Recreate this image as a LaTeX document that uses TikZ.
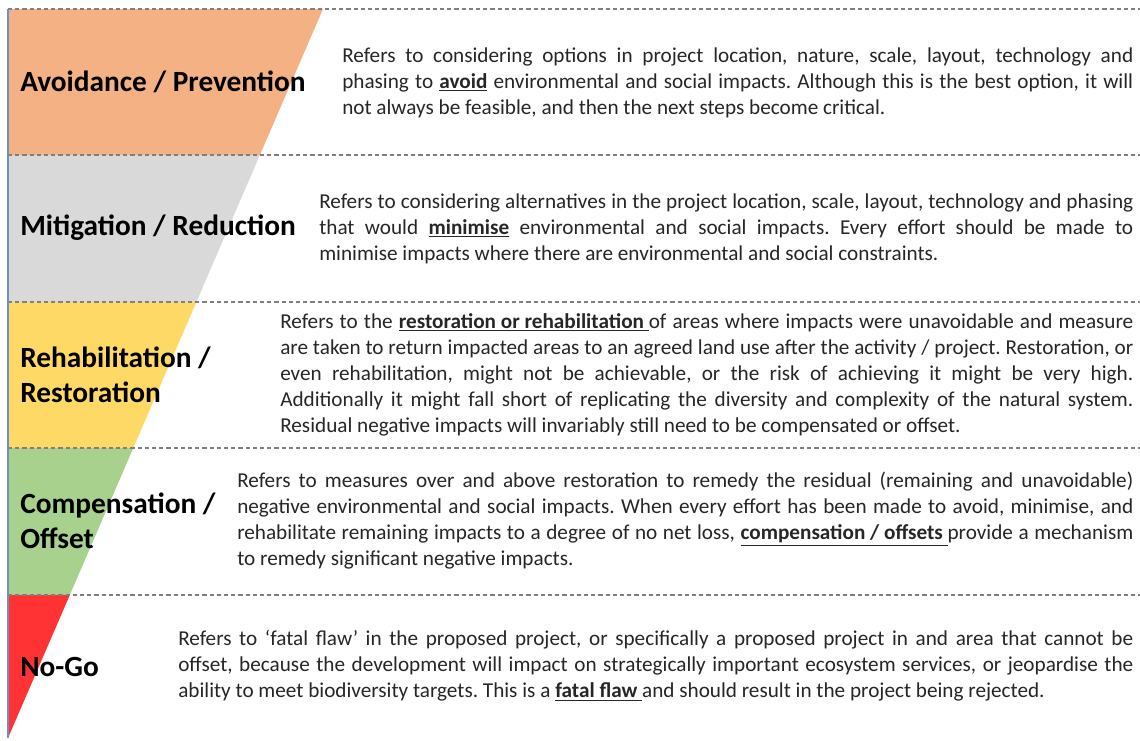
\documentclass[tikz,border=0pt]{standalone}
\usepackage{fontspec}
\setmainfont{Carlito}
\definecolor{orangeF}{HTML}{F4B183}
\definecolor{greyF}{HTML}{D9D9D9}
\definecolor{yellowF}{HTML}{FFD966}
\definecolor{greenF}{HTML}{A9D18E}
\definecolor{redF}{HTML}{FF3333}
\definecolor{txtC}{HTML}{262626}
\definecolor{sideC}{HTML}{6F8FC0}
\definecolor{dashC}{HTML}{7F7F7F}
\tikzset{
  sep/.style={draw=dashC, line width=0.8pt, dash pattern=on 3.2pt off 2.2pt},
  lbl/.style={anchor=west, inner sep=0pt, align=left, text=black,
    font=\fontsize{22}{26.5}\selectfont\bfseries},
  body/.style={anchor=west, inner sep=0pt, text=txtC, align=justify,
    font=\fontsize{15.9}{19.5}\selectfont\frenchspacing},
}
\newcommand{\ul}[1]{\underline{\textbf{#1}}}
\begin{document}
\begin{tikzpicture}[x=0.75pt,y=-0.75pt]
\useasboundingbox (0,0) rectangle (1140,740);
% bands
\fill[orangeF] (8,9) -- (323,9) -- (259.9,155) -- (8,155) -- cycle;
\fill[greyF] (8,155) -- (259.9,155) -- (196.4,302) -- (8,302) -- cycle;
\fill[yellowF] (8,302) -- (196.4,302) -- (133.3,448) -- (8,448) -- cycle;
\fill[greenF] (8,448) -- (133.3,448) -- (69.8,595) -- (8,595) -- cycle;
\fill[redF] (8,595) -- (69.8,595) -- (8,738) -- cycle;
% separators
\coordinate (s0l) at (8,9);   \coordinate (s0r) at (1140,9);
\coordinate (s1l) at (8,155); \coordinate (s1r) at (1140,155);
\coordinate (s2l) at (8,302); \coordinate (s2r) at (1140,302);
\coordinate (s3l) at (8,448); \coordinate (s3r) at (1140,448);
\coordinate (s4l) at (8,595); \coordinate (s4r) at (1140,595);
\coordinate (bot) at (8,738);
\foreach \i in {0,...,4} { \draw[sep] (s\i l) -- (s\i r); }
\draw[sideC, line width=0.8pt] (s0l) -- (bot);
% labels
\node[lbl] (l1) at (20,82) {Avoidance / Prevention};
\node[lbl] (l2) at (20,228) {Mitigation / Reduction};
\node[lbl] (l3) at (20,375) {Rehabilitation /\\Restoration};
\node[lbl] (l4) at (20,521) {Compensation /\\Offset};
\node[lbl] (l5) at (20,667) {No-Go};
% descriptions
\node[body, text width=593.25pt] (t1) at (342,83) {Refers to considering options in project location, nature, scale, layout, technology and\linebreak
phasing to \ul{avoid} environmental and social impacts. Although this is the best option, it will\linebreak
not always be feasible, and then the next steps become critical.};
\node[body, text width=610.5pt] (t2) at (319,229) {Refers to considering alternatives in the project location, scale, layout, technology and phasing\linebreak
that would \ul{minimise} environmental and social impacts. Every effort should be made to\linebreak
minimise impacts where there are environmental and social constraints.};
\node[body, text width=639.75pt] (t3) at (280,375) {Refers to the \ul{restoration or rehabilitation\ }of areas where impacts were unavoidable and measure\linebreak
are taken to return impacted areas to an agreed land use after the activity / project. Restoration, or\linebreak
even rehabilitation, might not be achievable, or the risk of achieving it might be very high.\linebreak
Additionally it might fall short of replicating the diversity and complexity of the natural system.\linebreak
Residual negative impacts will invariably still need to be compensated or offset.};
\node[body, text width=672pt] (t4) at (237,521) {Refers to measures over and above restoration to remedy the residual (remaining and unavoidable)\linebreak
negative environmental and social impacts. When every effort has been made to avoid, minimise, and\linebreak
rehabilitate remaining impacts to a degree of no net loss, \ul{compensation / offsets\ }provide a mechanism\linebreak
to remedy significant negative impacts.};
\node[body, text width=716.25pt] (t5) at (178,666) {Refers to ‘fatal flaw’ in the proposed project, or specifically a proposed project in and area that cannot be\linebreak
offset, because the development will impact on strategically important ecosystem services, or jeopardise the\linebreak
ability to meet biodiversity targets. This is a \ul{fatal flaw\ }and should result in the project being rejected.};
\end{tikzpicture}
\end{document}
